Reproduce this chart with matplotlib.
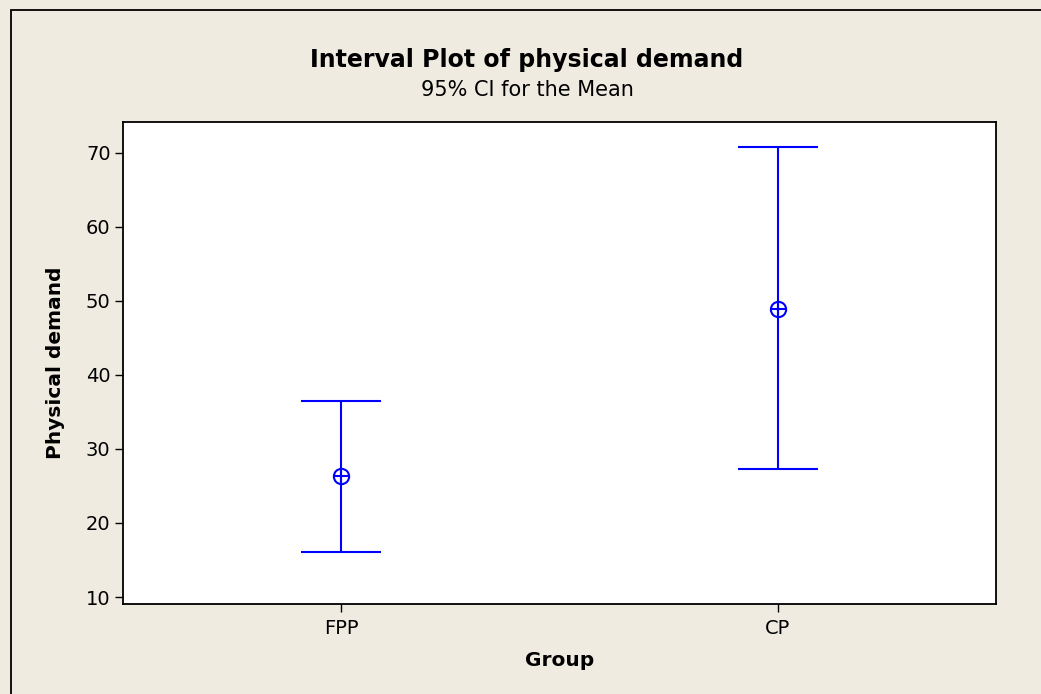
# coding=utf-8
import matplotlib
matplotlib.use('Agg')
import matplotlib.pyplot as plt
from matplotlib.patches import Rectangle

# Interval plot values
groups = ['FPP', 'CP']
means = [26.35, 48.9]
lower = [16.05, 27.3]
upper = [36.45, 70.8]
yticks = [10, 20, 30, 40, 50, 60, 70]

BG = '#EFEBE1'
BLUE = '#0000FF'


def plot_interval(filename):
    fig = plt.figure(figsize=(10.41, 6.94), dpi=100, facecolor=BG)
    ax = fig.add_axes([123 / 1041, 1 - 604 / 694, 873 / 1041, 482 / 694])
    ax.set_facecolor('white')

    # Frame around the whole graph (runs off the right and bottom edge)
    fig.patches.append(Rectangle(
        (11 / 1041, -0.1), 1.2, 1.1 - 10.5 / 694, transform=fig.transFigure,
        fill=False, edgecolor='black', linewidth=1.3))

    x = list(range(1, len(groups) + 1))
    err_lo = [m - l for m, l in zip(means, lower)]
    err_hi = [u - m for m, u in zip(means, upper)]
    ax.errorbar(x, means, yerr=[err_lo, err_hi], fmt='none', ecolor=BLUE,
                elinewidth=1.5, capsize=29, capthick=1.5)
    ax.plot(x, means, 'o', color=BLUE, markersize=11, markerfacecolor='none',
            markeredgewidth=1.5)
    ax.plot(x, means, '+', color=BLUE, markersize=11, markeredgewidth=1.5)

    ax.set_xlim(0.5, 2.5)
    ax.set_ylim(9.06, 74.12)
    ax.set_xticks(x)
    ax.set_xticklabels(groups)
    ax.set_yticks(yticks)

    for side in ax.spines.values():
        side.set_linewidth(1.3)
        side.set_color('black')
    ax.tick_params(axis='both', direction='out', length=6, width=1.0,
                   labelsize=14, colors='black', pad=3)
    ax.tick_params(axis='x', pad=5)

    ax.set_xlabel('Group', fontsize=14.5, fontweight='bold', labelpad=9)
    ax.set_ylabel('Physical demand', fontsize=14.5, fontweight='bold', labelpad=15)

    cx = 527 / 1041
    fig.text(cx, 1 - 60 / 694, 'Interval Plot of physical demand',
             ha='center', va='center', fontsize=17, fontweight='bold')
    fig.text(cx, 1 - 90 / 694, '95% CI for the Mean',
             ha='center', va='center', fontsize=15)

    fig.savefig(filename, dpi=100, facecolor=BG)


if __name__ == '__main__':
    plot_interval('out.png')
